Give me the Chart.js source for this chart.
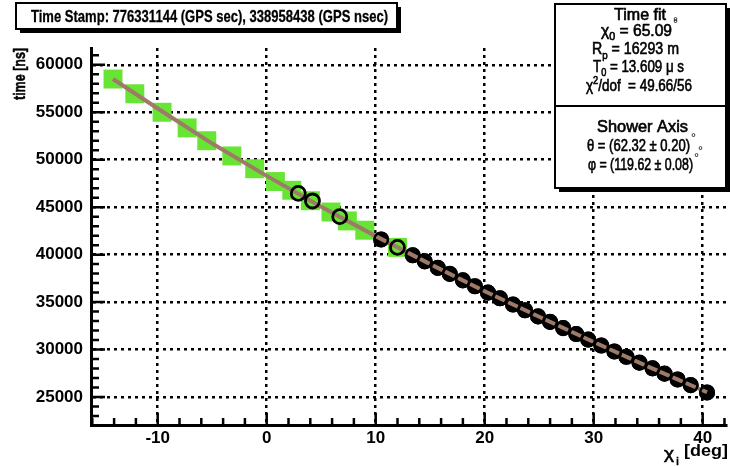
<!DOCTYPE html>
<html>
<head>
<meta charset="utf-8">
<script src="https://cdn.jsdelivr.net/npm/chart.js@4.4.0/dist/chart.umd.min.js"></script>
<style>
  html, body { margin: 0; padding: 0; background: #fff; }
  #wrap { width: 730px; height: 466px; }
</style>
</head>
<body>
<div id="wrap"><canvas id="c" width="730" height="466"></canvas></div>
<script>
// pixels along the track: chi_i [deg] vs time [ns]
const greenChi  = [-14.1, -12.1, -9.6, -7.3, -5.5, -3.2, -1.1, 0.8, 2.3, 4.0, 5.9, 7.4, 9.0, 12.0];
const greenTime = [58500, 56950, 55000, 53350, 52000, 50400, 49050, 47700, 46780, 45680, 44490, 43550, 42570, 40760];

const openChi  = [2.9, 4.2, 6.7, 12.0];
const openTime = [46450, 45650, 44000, 40760];

const filledChi  = [10.5, 13.4, 14.5, 15.7, 16.8, 18.0, 19.1, 20.3, 21.4, 22.6, 23.7, 24.9, 26.0,
                    27.2, 28.4, 29.5, 30.7, 31.9, 33.0, 34.2, 35.4, 36.5, 37.7, 38.9, 40.4];
const filledTime = [41600, 39930, 39290, 38600, 37970, 37290, 36670, 36000, 35400, 34740, 34140, 33490, 32910,
                    32260, 31630, 31050, 30420, 29800, 29240, 28620, 28020, 27460, 26850, 26250, 25480];

// time fit curve
const fitChi  = [-14.1, -10, -5, 0, 5, 10, 15, 20, 25, 30, 35, 40.4];
const fitTime = [58500, 55400, 51700, 48300, 45050, 41950, 39000, 36150, 33450, 30800, 28200, 25500];

const xTicks = [-10, 0, 10, 20, 30, 40];
const yTicks = [25000, 30000, 35000, 40000, 45000, 50000, 55000, 60000];

const FONT = '"Liberation Sans", Arial, Helvetica, sans-serif';

function toXY(xs, ys) {
    return xs.map((x, i) => ({ x: x, y: ys[i] }));
}

// draws a line of mixed text pieces squeezed/stretched to fit x0..x1
function richLine(ctx, segs, x0, x1, y, heavy) {
    let total = 0;
    segs.forEach(s => { ctx.font = s.font; s.w = ctx.measureText(s.t).width; total += s.w; });
    const sx = (x1 - x0) / total;
    ctx.save();
    ctx.translate(x0, y);
    ctx.scale(sx, 1);
    ctx.textBaseline = 'middle';
    ctx.textAlign = 'left';
    ctx.fillStyle = '#000';
    ctx.strokeStyle = '#000';
    ctx.lineWidth = heavy || 0;
    let cx = 0;
    segs.forEach(s => {
        ctx.font = s.font;
        ctx.fillText(s.t, cx, s.dy || 0);
        if (heavy) ctx.strokeText(s.t, cx, s.dy || 0);
        cx += s.w;
    });
    ctx.restore();
}

function box(ctx, x, y, w, h) {
    ctx.fillStyle = '#000';
    ctx.fillRect(x + 4, y + 4, w, h);
    ctx.fillStyle = '#fff';
    ctx.fillRect(x, y, w, h);
    ctx.strokeStyle = '#000';
    ctx.lineWidth = 2;
    ctx.strokeRect(x, y, w, h);
}

const rootStyle = {
    id: 'rootStyle',
    beforeDatasetsDraw(chart) {
        const { ctx, chartArea: a, scales: { x, y } } = chart;
        ctx.save();
        ctx.strokeStyle = '#000';
        ctx.lineWidth = 2.5;
        ctx.beginPath();
        for (let v = 23000; v <= 61000; v += 1000) {
            const py = y.getPixelForValue(v);
            const len = v % 5000 === 0 ? 14 : 8;
            ctx.moveTo(a.left, py);
            ctx.lineTo(a.left + len, py);
        }
        for (let v = -16; v <= 42; v += 2) {
            const px = x.getPixelForValue(v);
            const len = v % 10 === 0 ? 12 : 7;
            ctx.moveTo(px, a.bottom);
            ctx.lineTo(px, a.bottom - len);
        }
        ctx.stroke();
        ctx.restore();
    },
    afterDraw(chart) {
        const ctx = chart.ctx;
        const reg = '16px ' + FONT;
        const small = '11px ' + FONT;
        const hv = 0.6;
        ctx.save();

        // title
        box(ctx, 16, 3, 381, 26);
        richLine(ctx, [{ t: 'Time Stamp: 776331144 (GPS sec), 338958438 (GPS nsec)', font: 'bold 17px ' + FONT }], 31, 388, 17, 0.3);

        // fit result boxes
        box(ctx, 555, 4, 171, 184);
        ctx.beginPath();
        ctx.moveTo(555, 106);
        ctx.lineTo(726, 106);
        ctx.stroke();

        richLine(ctx, [{ t: 'Time fit', font: reg }], 614, 666, 16, hv);
        richLine(ctx, [{ t: '°', font: small }], 673, 678, 22);
        richLine(ctx, [{ t: 'χ', font: reg }, { t: '0', font: small, dy: 5 }, { t: ' = 65.09', font: reg }], 601, 672, 32, hv);
        richLine(ctx, [{ t: '°', font: small }], 673, 678, 24);
        richLine(ctx, [{ t: 'R', font: reg }, { t: 'p', font: small, dy: 6 }, { t: ' = 16293 m', font: reg }], 592, 679, 50, hv);
        richLine(ctx, [{ t: 'T', font: reg }, { t: '0', font: small, dy: 5 }, { t: ' = 13.609 ', font: reg }, { t: 'μ', font: reg }, { t: ' s', font: reg }], 593, 684, 68, hv);
        richLine(ctx, [{ t: 'χ', font: reg }, { t: '2', font: small, dy: -6 }, { t: '/dof  = 49.66/56', font: reg }], 586, 692, 87, hv);

        richLine(ctx, [{ t: 'Shower Axis', font: reg }], 597, 688, 128, hv);
        richLine(ctx, [{ t: 'θ = (62.32 ± 0.20)', font: reg }], 587, 690, 147, hv);
        richLine(ctx, [{ t: '°', font: small }], 691, 696, 138);
        richLine(ctx, [{ t: '°', font: small }], 698, 703, 151);
        richLine(ctx, [{ t: 'φ = (119.62 ± 0.08)', font: reg }], 588, 693, 166, hv);
        richLine(ctx, [{ t: '°', font: small }], 694, 699, 158);

        // axis titles
        ctx.save();
        ctx.translate(21, 48);
        ctx.rotate(-Math.PI / 2);
        ctx.font = 'bold 16px ' + FONT;
        ctx.textAlign = 'left';
        ctx.textBaseline = 'middle';
        ctx.fillStyle = '#000';
        ctx.strokeStyle = '#000';
        ctx.lineWidth = 0.5;
        const tw = ctx.measureText('time [ns]').width;
        ctx.scale(52 / tw, 1);
        ctx.fillText('time [ns]', -tw, 0);
        ctx.strokeText('time [ns]', -tw, 0);
        ctx.restore();

        richLine(ctx, [{ t: 'χ', font: '17px ' + FONT }], 664, 674, 454, hv);
        richLine(ctx, [{ t: 'i', font: small }], 676, 679, 462, 0.4);
        richLine(ctx, [{ t: '[deg]', font: 'bold 16px ' + FONT }], 684, 728, 452);

        ctx.restore();
    }
};

new Chart(document.getElementById('c'), {
    type: 'scatter',
    data: {
        datasets: [{
            label: 'outline',
            data: toXY(openChi, openTime),
            pointStyle: 'circle',
            pointRadius: 7,
            backgroundColor: 'rgba(0,0,0,0)',
            borderColor: '#000',
            borderWidth: 2.8,
            order: 1
        },
        {
            label: 'filled outline',
            data: toXY(filledChi, filledTime),
            pointStyle: 'circle',
            pointRadius: 6.8,
            backgroundColor: 'rgba(0,0,0,0)',
            borderColor: '#000',
            borderWidth: 2.5,
            order: 2
        },
        {
            label: 'fit',
            data: toXY(fitChi, fitTime),
            showLine: true,
            borderColor: 'rgb(158, 122, 104)',
            borderWidth: 4,
            pointRadius: 0,
            tension: 0,
            order: 3
        },
        {
            label: 'filled',
            data: toXY(filledChi, filledTime),
            pointStyle: 'circle',
            pointRadius: 8,
            backgroundColor: '#000',
            borderWidth: 0,
            order: 4
        },
        {
            label: 'green',
            data: toXY(greenChi, greenTime),
            pointStyle: 'rect',
            pointRadius: 13.4,
            backgroundColor: 'rgb(104, 228, 52)',
            borderWidth: 0,
            order: 5
        }]
    },
    options: {
        responsive: false,
        animation: false,
        devicePixelRatio: 1,
        layout: { autoPadding: false, padding: { top: 48, right: 4, left: 0, bottom: 0 } },
        plugins: {
            legend: { display: false },
            tooltip: { enabled: false }
        },
        scales: {
            x: {
                type: 'linear',
                min: -16.12,
                max: 42.14,
                afterFit: s => { s.height = 41; s.paddingLeft = 0; s.paddingRight = 0; },
                afterBuildTicks: s => { s.ticks = xTicks.map(v => ({ value: v })); },
                ticks: {
                    color: '#000',
                    font: { family: FONT, size: 17, weight: 'bold' },
                    padding: 3,
                    maxRotation: 0,
                    autoSkip: false,
                    callback: v => String(v)
                },
                grid: { color: '#000', lineWidth: 2.5, drawTicks: false },
                border: { display: true, color: '#000', width: 3, dash: [3, 4] }
            },
            y: {
                type: 'linear',
                min: 22050,
                max: 61770,
                afterFit: s => { s.width = 91; s.paddingTop = 0; s.paddingBottom = 0; },
                afterBuildTicks: s => { s.ticks = yTicks.map(v => ({ value: v })); },
                ticks: {
                    color: '#000',
                    font: { family: FONT, size: 17, weight: 'bold' },
                    padding: 8,
                    autoSkip: false,
                    callback: v => String(v)
                },
                grid: { color: '#000', lineWidth: 2.5, drawTicks: false },
                border: { display: true, color: '#000', width: 3, dash: [3, 4] }
            }
        }
    },
    plugins: [rootStyle]
});
</script>
</body>
</html>
